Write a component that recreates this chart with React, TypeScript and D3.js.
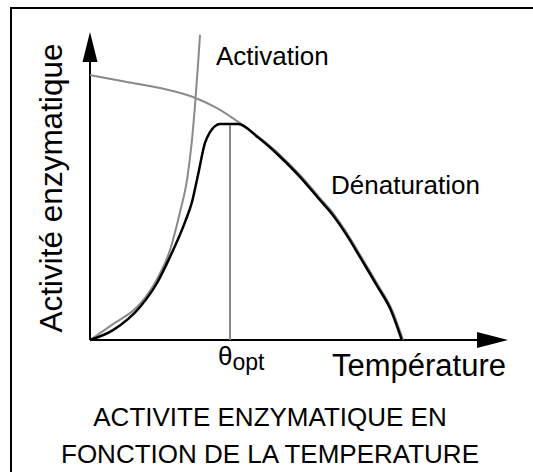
import React from 'react';
import * as d3 from 'd3';

// courbes : [température, activité] en unités arbitraires (0-100)
const activation: [number, number][] = [
  [0, 0], [5.75, 5.3], [12.5, 12], [16.75, 20.3], [20, 30], [22.5, 42.7],
  [24.25, 53.3], [25.5, 66.7], [26.25, 78.3], [27, 91.7], [27.5, 101.7],
];

const denaturation: [number, number][] = [
  [0, 88.3], [9.25, 86], [17.5, 84], [25.75, 81], [31.75, 77.3], [37.5, 72.3],
  [42.5, 67.3], [47.5, 61.7], [52.5, 55], [57.5, 47.3], [60.75, 42.3], [65, 34],
  [68, 27.3], [72, 18.3], [75.5, 10], [78.25, 0],
];

const activite: [number, number][] = [
  [0, 0], [5.75, 3.3], [12.5, 11], [16.75, 19], [20, 27.7], [23.75, 39.3],
  [25.5, 46], [27, 55], [28.75, 65.7], [30, 69.3], [31.25, 71.3], [32.5, 72], [37, 72],
  [42.2, 67.3], [47.2, 61.5], [52.2, 54.8], [57.2, 47.1], [60.45, 42.1], [64.7, 33.9],
  [67.7, 27.2], [71.7, 18.2], [75.2, 10], [77.95, 0],
];

const tOpt = 35;
const aOpt = 72;

const titleLines = ['ACTIVITE ENZYMATIQUE EN', 'FONCTION DE LA TEMPERATURE'];

const W = 533;
const H = 472;
const font = '"Liberation Sans", Arial, sans-serif';
const grey = '#8a8a8a';

export default function App() {
  const x = d3.scaleLinear().domain([0, 100]).range([90, 490]);
  const y = d3.scaleLinear().domain([0, 100]).range([340, 40]);

  const line = d3.line<[number, number]>()
    .x(d => x(d[0]))
    .y(d => y(d[1]))
    .curve(d3.curveMonotoneX);

  const x0 = x(0), y0 = y(0);

  return (
    <svg width={W} height={H} style={{ position: 'absolute', left: 0, top: 0 }} fontFamily={font}>
      <rect x={0} y={0} width={W} height={H} fill="white" />
      <rect x={11} y={8} width={540} height={480} fill="none" stroke="black" strokeWidth={2} />

      {/* axes */}
      <line x1={x0} y1={y0} x2={x0} y2={60} stroke="black" strokeWidth={2} />
      <path d={`M${x0},32 L${x0 + 7.5},62 L${x0 - 7.5},62 Z`} fill="black" />
      <line x1={x0} y1={y0} x2={480} y2={y0} stroke="black" strokeWidth={2} />
      <path d={`M508,${y0} L477,${y0 - 8} L477,${y0 + 8} Z`} fill="black" />

      {/* courbes */}
      <line x1={x(tOpt)} y1={y(aOpt)} x2={x(tOpt)} y2={y0} stroke={grey} strokeWidth={2} />
      <path d={line(denaturation) ?? ''} fill="none" stroke={grey} strokeWidth={2} />
      <path d={line(activation) ?? ''} fill="none" stroke={grey} strokeWidth={2} />
      <path d={line(activite) ?? ''} fill="none" stroke="black" strokeWidth={2.5} strokeLinejoin="round" />

      {/* textes */}
      <text x={216} y={65} fontSize={26}>Activation</text>
      <text x={331} y={194} fontSize={26}>Dénaturation</text>
      <text x={332} y={376} fontSize={31}>Température</text>
      <text transform="translate(62,188) rotate(-90)" textAnchor="middle" fontSize={31.5}>Activité enzymatique</text>
      <text x={218} y={365} fontSize={26}>θ<tspan dy={5} fontSize={23}>opt</tspan></text>

      {titleLines.map((t, i) => (
        <text key={i} x={270} y={426 + i * 37} textAnchor="middle" fontSize={26}>{t}</text>
      ))}
    </svg>
  );
}
